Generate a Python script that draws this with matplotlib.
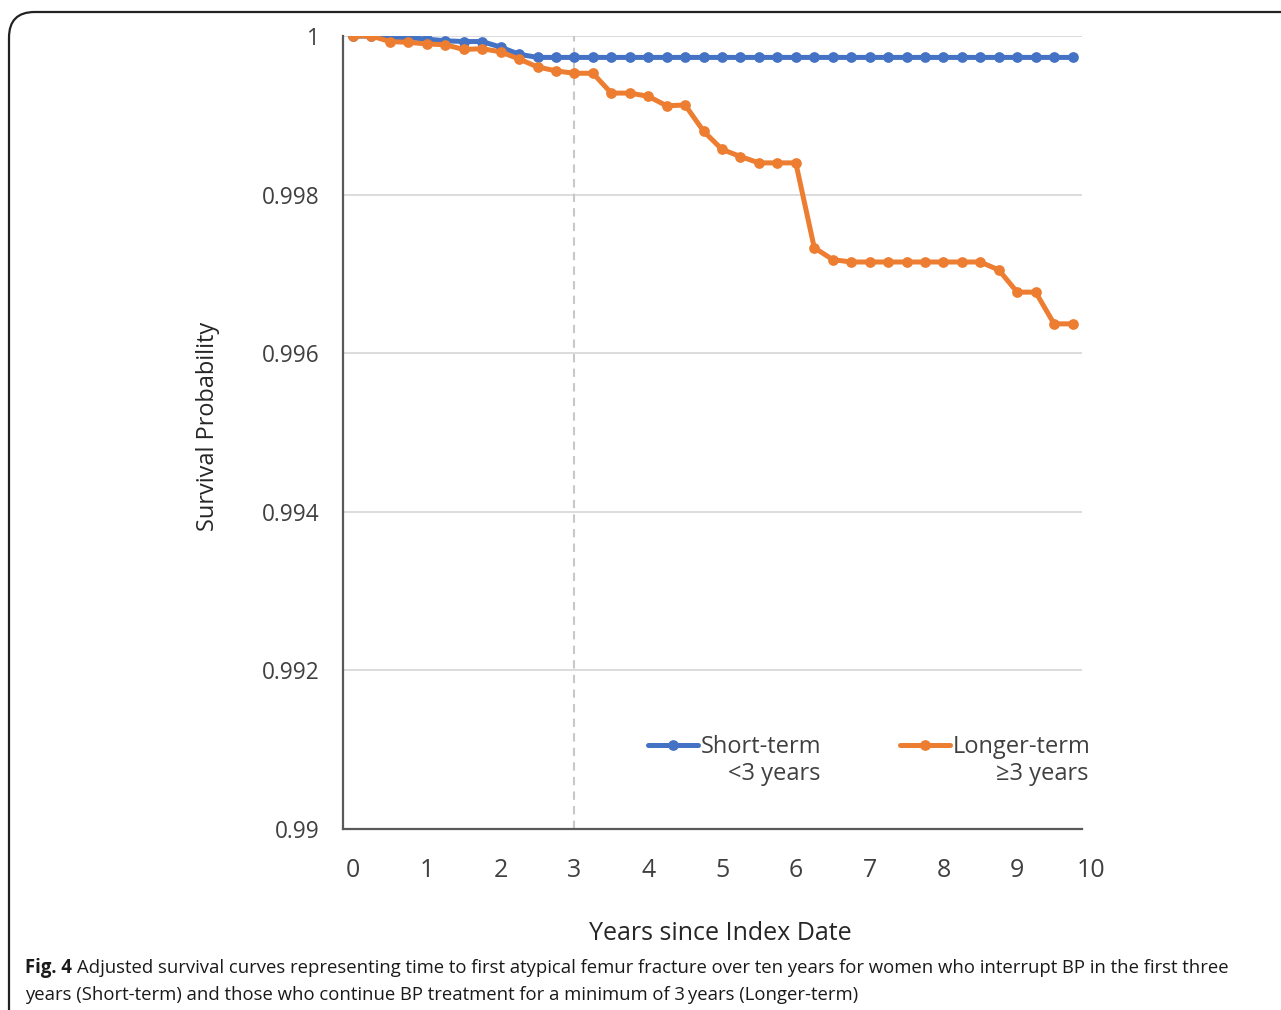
import matplotlib
matplotlib.use("Agg")
import matplotlib.pyplot as plt
from matplotlib.patches import FancyBboxPatch
import numpy as np

# ---- data ----
years = [i * 0.25 for i in range(40)]
short_term = [1.0, 1.0, 0.99998, 0.99998, 0.99996, 0.99994, 0.99993, 0.99993,
              0.99986, 0.99977, 0.99973, 0.99973, 0.99973, 0.99973, 0.99973, 0.99973,
              0.99973, 0.99973, 0.99973, 0.99973, 0.99973, 0.99973, 0.99973, 0.99973,
              0.99973, 0.99973, 0.99973, 0.99973, 0.99973, 0.99973, 0.99973, 0.99973,
              0.99973, 0.99973, 0.99973, 0.99973, 0.99973, 0.99973, 0.99973, 0.99973]
longer_term = [1.0, 1.0, 0.99993, 0.99992, 0.99990, 0.99989, 0.99983, 0.99984,
               0.99980, 0.99971, 0.99961, 0.99956, 0.99953, 0.99953, 0.99928, 0.99928,
               0.99924, 0.99912, 0.99913, 0.99880, 0.99857, 0.99848, 0.99840, 0.99840,
               0.99840, 0.99733, 0.99718, 0.99715, 0.99715, 0.99715, 0.99715, 0.99715,
               0.99715, 0.99715, 0.99715, 0.99705, 0.99677, 0.99677, 0.99637, 0.99637]
y_ticks = [0.99, 0.992, 0.994, 0.996, 0.998, 1.0]
y_tick_labels = ["0.99", "0.992", "0.994", "0.996", "0.998", "1"]
x_tick_labels = list(range(0, 11))
series_names = [("Short-term", "<3 years"), ("Longer-term", "≥3 years")]
ref_year = 3

BLUE = "#4472C4"
ORANGE = "#ED7D31"
FONT = ["Open Sans", "DejaVu Sans"]
plt.rcParams["font.family"] = FONT

W, H = 1281, 1010
fig = plt.figure(figsize=(W / 100, H / 100), dpi=100)

def fx(px):
    return px / W

def fy(py):
    return 1 - py / H

ax = fig.add_axes([fx(343), fy(829), fx(1082) - fx(343), fy(36) - fy(829)])
ax.set_xlim(-0.1355, 9.878)
ax.set_ylim(0.99, 1.0)

for s in ["top", "right"]:
    ax.spines[s].set_visible(False)
for s in ["left", "bottom"]:
    ax.spines[s].set_color("#595959")
    ax.spines[s].set_linewidth(1.6)

ax.set_yticks(y_ticks)
ax.set_yticklabels(y_tick_labels, fontsize=16.3, color="#404040")
ax.tick_params(axis="y", length=0, pad=17)
ax.set_xticks([])
ax.grid(axis="y", color="#D9D9D9", linewidth=1.3)
ax.set_axisbelow(True)

for v in x_tick_labels:
    ax.text(v, -0.0525, str(v), transform=ax.get_xaxis_transform(),
            ha="center", va="center", fontsize=18, color="#404040", clip_on=False)

ax.axvline(ref_year, color="#C8C8C8", linestyle=(0, (4, 3)), linewidth=1.5, zorder=1)

ax.plot(years, short_term, color=BLUE, linewidth=3.6, marker="o", markersize=6.7,
        zorder=3, solid_joinstyle="round")
ax.plot(years, longer_term, color=ORANGE, linewidth=3.6, marker="o", markersize=6.7,
        zorder=4, solid_joinstyle="round")

# manual legend (handle aligned with first line)
def ax_x(px):
    return (px - 343) / (1082 - 343)

def ax_y(py):
    return 1 - (py - 36) / (829 - 36)

for (name, sub), col, x0, x1, r in [
        (series_names[0], BLUE, 648, 698, 820),
        (series_names[1], ORANGE, 900, 950, 1088)]:
    ax.plot([ax_x(x0), ax_x(x1)], [ax_y(745)] * 2, transform=ax.transAxes,
            color=col, linewidth=3.6, clip_on=False, solid_capstyle="round")
    ax.plot([ax_x((x0 + x1) / 2)], [ax_y(745)], transform=ax.transAxes,
            color=col, marker="o", markersize=6.7, clip_on=False)
    ax.text(ax_x(x1 + 3), ax_y(747), name, transform=ax.transAxes, ha="left",
            va="center", fontsize=17, color="#404040", clip_on=False)
    ax.text(ax_x(r), ax_y(774), sub, transform=ax.transAxes, ha="right",
            va="center", fontsize=17, color="#404040", clip_on=False)

fig.text(fx(208), fy(426), "Survival Probability", rotation=90, ha="center",
         va="center", fontsize=16.9, color="#262626")
fig.text(fx(720), fy(934), "Years since Index Date", ha="center", va="center",
         fontsize=18, color="#262626")

# frame
frame = FancyBboxPatch((fx(9), fy(1100)), fx(1400), fy(12) - fy(1100),
                       boxstyle="round,pad=0,rounding_size=0.02",
                       transform=fig.transFigure, fill=False,
                       edgecolor="#222222", linewidth=1.6, clip_on=False,
                       mutation_aspect=W / H)
fig.add_artist(frame)

# caption
cap_font = ["Open Sans", "DejaVu Sans"]
CAP_FS = 13.35
t1 = fig.text(fx(25), fy(968), "Fig. 4", fontsize=CAP_FS, fontweight="bold",
              ha="left", va="center", color="#1a1a1a", family=cap_font)
fig.canvas.draw()
bb = t1.get_window_extent()
fig.text((bb.x1 + 5) / W, fy(968),
         "Adjusted survival curves representing time to first atypical femur fracture over ten years for women who interrupt BP in the first three",
         fontsize=CAP_FS, ha="left", va="center", color="#1a1a1a", family=cap_font)
fig.text(fx(25), fy(995),
         "years (Short-term) and those who continue BP treatment for a minimum of 3\u2009years (Longer-term)",
         fontsize=CAP_FS, ha="left", va="center", color="#1a1a1a", family=cap_font)

fig.savefig("out.png", dpi=100)
